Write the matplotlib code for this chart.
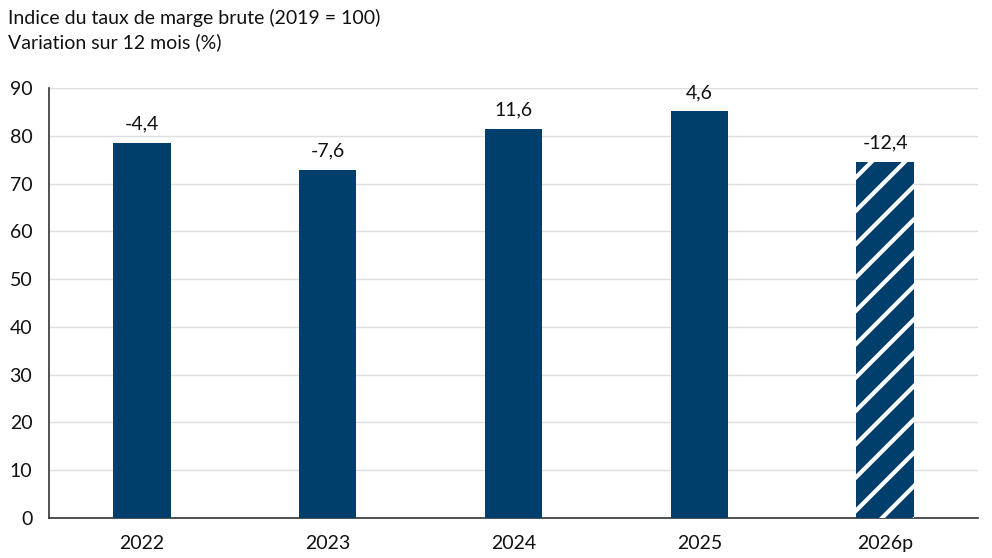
import matplotlib
matplotlib.use("Agg")
from matplotlib import pyplot as plt

years = ["2022", "2023", "2024", "2025", "2026p"]
index_values = [78.5, 72.8, 81.4, 85.1, 74.5]
change_labels = ["-4,4", "-7,6", "11,6", "4,6", "-12,4"]
forecast = [False, False, False, False, True]

bar_color = "#003f6b"

plt.rcParams["font.family"] = ["Lato", "DejaVu Sans"]
plt.rcParams["hatch.linewidth"] = 3.0

fig = plt.figure(figsize=(9.92, 5.58), dpi=100)
ax = fig.add_axes([49 / 992, 1 - 518 / 558, 929 / 992, 430 / 558])

xs = range(len(years))
for x, val, lab, is_fc in zip(xs, index_values, change_labels, forecast):
    if is_fc:
        ax.bar(x, val, width=0.31, color=bar_color, edgecolor="white",
               hatch="/", linewidth=0, zorder=3)
    else:
        ax.bar(x, val, width=0.31, color=bar_color, linewidth=0, zorder=3)
    ax.text(x, val + 2.2, lab, ha="center", va="bottom", fontsize=14,
            color="#111111")

ax.set_xlim(-0.5, len(years) - 0.5)
ax.set_ylim(0, 90)
ax.set_yticks(range(0, 91, 10))
ax.set_xticks(list(xs))
ax.set_xticklabels(years)
ax.tick_params(axis="both", length=0, labelsize=14, colors="#111111")
ax.tick_params(axis="x", pad=12)
ax.tick_params(axis="y", pad=12)

ax.grid(axis="y", color="#dedede", linewidth=1, zorder=0)
ax.set_axisbelow(True)
for side in ["top", "right"]:
    ax.spines[side].set_visible(False)
for side in ["left", "bottom"]:
    ax.spines[side].set_color("#333333")
    ax.spines[side].set_linewidth(1.2)

fig.text(8 / 992, 1 - 18 / 558, "Indice du taux de marge brute (2019 = 100)",
         fontsize=14, va="center", ha="left", color="#111111")
fig.text(8 / 992, 1 - 42 / 558, "Variation sur 12 mois (%)",
         fontsize=14, va="center", ha="left", color="#111111")

fig.savefig("out.png", dpi=100)
